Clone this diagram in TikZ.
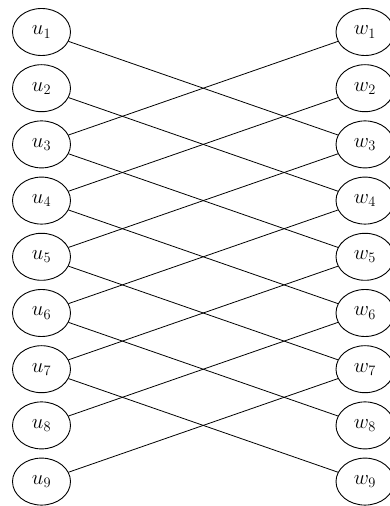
\documentclass[tikz,border=0pt]{standalone}
\usepackage{amsmath, amssymb}
\usepackage{tikz}
\usetikzlibrary{shapes.geometric}
\tikzset{
    vertex/.style={draw, ellipse, line width=0.9pt, minimum width=58pt, minimum height=47pt, inner sep=0pt, font=\fontsize{22}{26}\selectfont},
    kante/.style={line width=0.8pt}
}

\begin{document}
\begin{tikzpicture}[x=1pt, y=1pt]
            \useasboundingbox (0,0) rectangle (390,506);
            % linke Seite
            \node[vertex] (u1) at (41.5,474) {$u_1$};
            \node[vertex] (u2) at (41.5,417.8) {$u_2$};
            \node[vertex] (u3) at (41.5,361.6) {$u_3$};
            \node[vertex] (u4) at (41.5,305.4) {$u_4$};
            \node[vertex] (u5) at (41.5,249.2) {$u_5$};
            \node[vertex] (u6) at (41.5,193) {$u_6$};
            \node[vertex] (u7) at (41.5,136.8) {$u_7$};
            \node[vertex] (u8) at (41.5,80.6) {$u_8$};
            \node[vertex] (u9) at (41.5,24.4) {$u_9$};
            % rechte Seite
            \node[vertex] (w1) at (365,474) {$w_1$};
            \node[vertex] (w2) at (365,417.8) {$w_2$};
            \node[vertex] (w3) at (365,361.6) {$w_3$};
            \node[vertex] (w4) at (365,305.4) {$w_4$};
            \node[vertex] (w5) at (365,249.2) {$w_5$};
            \node[vertex] (w6) at (365,193) {$w_6$};
            \node[vertex] (w7) at (365,136.8) {$w_7$};
            \node[vertex] (w8) at (365,80.6) {$w_8$};
            \node[vertex] (w9) at (365,24.4) {$w_9$};
            % Kanten nach unten
            \draw[kante] (u1) -- (w3);
            \draw[kante] (u2) -- (w4);
            \draw[kante] (u3) -- (w5);
            \draw[kante] (u4) -- (w6);
            \draw[kante] (u5) -- (w7);
            \draw[kante] (u6) -- (w8);
            \draw[kante] (u7) -- (w9);
            % Kanten nach oben
            \draw[kante] (u3) -- (w1);
            \draw[kante] (u4) -- (w2);
            \draw[kante] (u5) -- (w3);
            \draw[kante] (u6) -- (w4);
            \draw[kante] (u7) -- (w5);
            \draw[kante] (u8) -- (w6);
            \draw[kante] (u9) -- (w7);
        \end{tikzpicture}
\end{document}
